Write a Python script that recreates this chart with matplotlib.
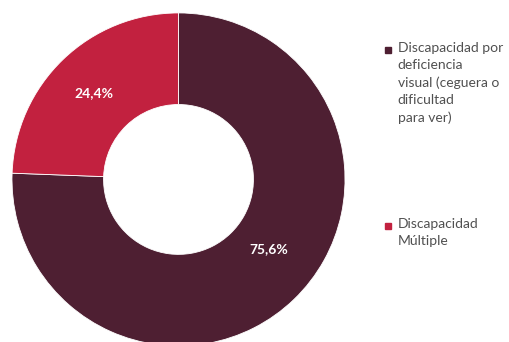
import matplotlib.pyplot as plt
from matplotlib.patches import Rectangle

labels = ['Discapacidad por\ndeficiencia\nvisual (ceguera o\ndificultad\npara ver)',
          'Discapacidad\nMúltiple']
values = [75.6, 24.4]
pct_labels = ['75,6%', '24,4%']
colors = ['#4E1F32', '#C2213F']

plt.rcParams['font.family'] = ['Lato', 'DejaVu Sans']

fig = plt.figure(figsize=(5.10, 3.42), dpi=100)
ax = fig.add_axes([0.0235, -0.0117, 0.653, 0.974])

wedges, _ = ax.pie(values, colors=colors, startangle=90, counterclock=False,
                   radius=1, wedgeprops=dict(width=0.55, edgecolor='white', linewidth=0.6))
ax.set_xlim(-1, 1)
ax.set_ylim(-1, 1)
ax.set_aspect('equal')

# data labels
ax.text(0.54, -0.42, pct_labels[0], color='white', fontsize=10, fontweight='bold',
        ha='center', va='center')
ax.text(-0.51, 0.52, pct_labels[1], color='white', fontsize=10, fontweight='bold',
        ha='center', va='center')

# legend
legend_y = [0.854, 0.339]
for lab, col, y in zip(labels, colors, legend_y):
    fig.patches.append(Rectangle((0.755, y - 0.009), 0.0118, 0.0175, color=col,
                                 transform=fig.transFigure, figure=fig))
    fig.text(0.780, y + 0.023, lab, fontsize=10, color='#505050', va='top', ha='left',
             linespacing=1.5)

fig.savefig('out.png', dpi=100)
